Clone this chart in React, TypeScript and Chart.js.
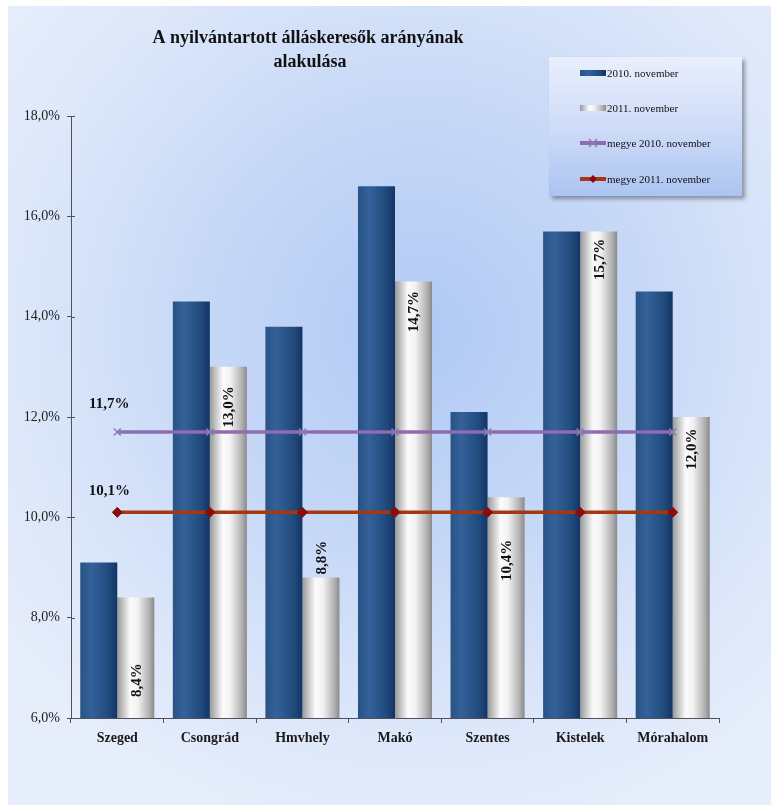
import React, { useEffect, useRef } from 'react';
import { Chart, registerables } from 'chart.js';

Chart.register(...registerables);

const categories = ['Szeged', 'Csongrád', 'Hmvhely', 'Makó', 'Szentes', 'Kistelek', 'Mórahalom'];
const nov2010 = [9.1, 14.3, 13.8, 16.6, 12.1, 15.7, 14.5];
const nov2011 = [8.4, 13.0, 8.8, 14.7, 10.4, 15.7, 12.0];
const megye2010 = [11.7, 11.7, 11.7, 11.7, 11.7, 11.7, 11.7];
const megye2011 = [10.1, 10.1, 10.1, 10.1, 10.1, 10.1, 10.1];
const seriesLabels = ['2010. november', '2011. november', 'megye 2010. november', 'megye 2011. november'];
const titleLines = ['A nyilvántartott álláskeresők arányának', 'alakulása'];
const yMin = 6;
const yMax = 18;
const yStep = 2;

// label placement (style, not data)
const barLabelShift: Array<{ from: 'top' | 'base'; dy: number }> = [
  { from: 'base', dy: -38 },
  { from: 'top', dy: 40 },
  { from: 'top', dy: -20 },
  { from: 'top', dy: 30 },
  { from: 'top', dy: 63 },
  { from: 'top', dy: 28 },
  { from: 'top', dy: 32 },
];
const lineLabelShift = [-28, -21];

const FONT = "'Liberation Serif', 'Times New Roman', serif";
const AXIS = '#50505a';
const PURPLE = '#8d6db2';
const PURPLE_MARK = '#8a7fb0';
const RED = '#a5380f';
const RED_MARK = '#8a0c0c';

const fmt = (v: number) => v.toFixed(1).replace('.', ',') + '%';

function barGrad(ctx: CanvasRenderingContext2D, x0: number, x1: number, kind: number) {
  const g = ctx.createLinearGradient(x0, 0, x1, 0);
  if (kind === 0) {
    g.addColorStop(0, '#2a5384');
    g.addColorStop(0.3, '#34619a');
    g.addColorStop(0.75, '#224b7d');
    g.addColorStop(1, '#123565');
  } else {
    g.addColorStop(0, '#999999');
    g.addColorStop(0.35, '#fbfbfb');
    g.addColorStop(0.55, '#f2f2f2');
    g.addColorStop(0.85, '#b4b4b4');
    g.addColorStop(1, '#8a8a8a');
  }
  return g;
}

const decor = {
  id: 'decor',
  beforeDraw(chart: any) {
    const ctx = chart.ctx as CanvasRenderingContext2D;
    const W = chart.width, H = chart.height;
    ctx.save();
    ctx.fillStyle = '#ffffff';
    ctx.fillRect(0, 0, W, H);
    const fx = 8, fy = 6, fw = W - 10, fh = H - 8;
    ctx.fillStyle = '#e4ecfa';
    ctx.fillRect(fx, fy, fw, fh);
    const rg = ctx.createRadialGradient(420, 330, 0, 420, 330, 520);
    rg.addColorStop(0, 'rgba(176,201,244,1)');
    rg.addColorStop(0.45, 'rgba(200,217,247,1)');
    rg.addColorStop(0.8, 'rgba(222,232,250,1)');
    rg.addColorStop(1, 'rgba(230,237,251,1)');
    ctx.fillStyle = rg;
    ctx.fillRect(fx, fy, fw, fh);
    ctx.restore();
  },
  beforeDatasetsDraw(chart: any) {
    const ctx = chart.ctx as CanvasRenderingContext2D;
    [0, 1].forEach((di) => {
      const meta = chart.getDatasetMeta(di);
      meta.data.forEach((el: any) => {
        const { x, width } = el.getProps(['x', 'width'], true);
        el.options = { ...el.options, backgroundColor: barGrad(ctx, x - width / 2, x + width / 2, di) };
      });
    });
  },
  afterDatasetsDraw(chart: any) {
    const ctx = chart.ctx as CanvasRenderingContext2D;
    ctx.save();
    ctx.fillStyle = '#111111';
    ctx.font = `bold 15px ${FONT}`;
    ctx.textAlign = 'center';
    ctx.textBaseline = 'middle';
    const bottom = chart.scales.y.getPixelForValue(yMin);
    // rotated labels on 2011 bars
    const meta = chart.getDatasetMeta(1);
    meta.data.forEach((el: any, i: number) => {
      const { x, y } = el.getProps(['x', 'y'], true);
      const s = barLabelShift[i];
      const cy = (s.from === 'top' ? y : bottom) + s.dy;
      ctx.save();
      ctx.translate(x, cy);
      ctx.rotate(-Math.PI / 2);
      ctx.fillText(fmt(chart.data.datasets[1].data[i]), 0, 1);
      ctx.restore();
    });
    // labels above first point of each line
    [2, 3].forEach((di, k) => {
      const el = chart.getDatasetMeta(di).data[0];
      const { x, y } = el.getProps(['x', 'y'], true);
      ctx.fillText(fmt(chart.data.datasets[di].data[0]), x - 8, y + lineLabelShift[k]);
    });
    // inner parts of y tick marks
    const ys = chart.scales.y;
    const left = chart.chartArea.left;
    ctx.strokeStyle = AXIS;
    ctx.lineWidth = 1;
    ys.ticks.forEach((t: any) => {
      const py = Math.round(ys.getPixelForValue(t.value)) + 0.5;
      ctx.beginPath();
      ctx.moveTo(left, py);
      ctx.lineTo(left + 4, py);
      ctx.stroke();
    });
    ctx.restore();
  },
  afterDraw(chart: any) {
    const ctx = chart.ctx as CanvasRenderingContext2D;
    ctx.save();
    // title
    ctx.fillStyle = '#111111';
    ctx.font = `bold 18px ${FONT}`;
    ctx.textAlign = 'center';
    ctx.textBaseline = 'middle';
    ctx.fillText(titleLines[0], 308, 38);
    ctx.fillText(titleLines[1], 310, 62);

    // legend box
    const bx = 549, by = 57, bw = 193, bh = 139;
    ctx.save();
    ctx.shadowColor = 'rgba(0,0,0,0.35)';
    ctx.shadowOffsetX = 3;
    ctx.shadowOffsetY = 3;
    ctx.shadowBlur = 4;
    const lg = ctx.createLinearGradient(0, by, 0, by + bh);
    lg.addColorStop(0, '#e9effc');
    lg.addColorStop(0.5, '#cfdcf8');
    lg.addColorStop(1, '#abc4f1');
    ctx.fillStyle = lg;
    ctx.fillRect(bx, by, bw, bh);
    ctx.restore();

    const rows = [73, 108, 143, 179];
    const sx0 = 580, sx1 = 606;
    ctx.font = `11px ${FONT}`;
    ctx.textAlign = 'left';
    ctx.fillStyle = '#111111';
    chart.data.datasets.forEach((ds: any, i: number) => {
      const ry = rows[i];
      if (i < 2) {
        ctx.fillStyle = barGrad(ctx, sx0, sx1, i);
        ctx.fillRect(sx0, ry - 3, sx1 - sx0, 6);
      } else {
        ctx.strokeStyle = ds.borderColor;
        ctx.lineWidth = 4;
        ctx.beginPath();
        ctx.moveTo(sx0, ry);
        ctx.lineTo(sx1, ry);
        ctx.stroke();
        const mx = (sx0 + sx1) / 2;
        if (i === 2) {
          ctx.strokeStyle = PURPLE_MARK;
          ctx.lineWidth = 1.5;
          ctx.beginPath();
          ctx.moveTo(mx - 4, ry - 4); ctx.lineTo(mx + 4, ry + 4);
          ctx.moveTo(mx + 4, ry - 4); ctx.lineTo(mx - 4, ry + 4);
          ctx.stroke();
        } else {
          ctx.fillStyle = RED_MARK;
          ctx.beginPath();
          ctx.moveTo(mx, ry - 4); ctx.lineTo(mx + 4, ry); ctx.lineTo(mx, ry + 4); ctx.lineTo(mx - 4, ry);
          ctx.closePath();
          ctx.fill();
        }
      }
      ctx.fillStyle = '#111111';
      ctx.fillText(ds.label, sx1 + 1, ry + 1);
    });
    ctx.restore();
  },
};

export default function App() {
  const ref = useRef<HTMLCanvasElement | null>(null);
  useEffect(() => {
    if (!ref.current) return;
    const chart = new Chart(ref.current, {
      type: 'bar',
      data: {
        labels: categories,
        datasets: [
          { type: 'bar', label: seriesLabels[0], data: nov2010, backgroundColor: '#2a5384', order: 1, borderWidth: 0 } as any,
          { type: 'bar', label: seriesLabels[1], data: nov2011, backgroundColor: '#dddddd', order: 2, borderWidth: 0 } as any,
          {
            type: 'line', label: seriesLabels[2], data: megye2010, borderColor: PURPLE, borderWidth: 3.5,
            pointStyle: 'crossRot', pointRadius: 5, pointBorderColor: PURPLE_MARK, pointBorderWidth: 1.5,
            pointBackgroundColor: PURPLE_MARK, order: 0, tension: 0,
          } as any,
          {
            type: 'line', label: seriesLabels[3], data: megye2011, borderColor: RED, borderWidth: 3.5,
            pointStyle: 'rectRot', pointRadius: 5, pointBorderColor: RED_MARK, pointBackgroundColor: RED_MARK,
            pointBorderWidth: 1, order: 0, tension: 0,
          } as any,
        ],
      },
      options: {
        responsive: false,
        animation: false,
        datasets: { bar: { categoryPercentage: 0.8, barPercentage: 1 } } as any,
        layout: { padding: { left: 0, top: 116, right: 54, bottom: 59 } },
        plugins: { legend: { display: false }, title: { display: false }, tooltip: { enabled: false } },
        scales: {
          x: {
            grid: { display: true, drawOnChartArea: false, tickLength: 5, color: AXIS, offset: true },
            border: { display: true, color: AXIS, width: 1 },
            ticks: { font: { family: FONT, size: 14, weight: 'bold' }, color: '#1a1a1a', padding: 7, maxRotation: 0 },
            afterFit: (s: any) => { s.height = 30; },
          },
          y: {
            min: yMin,
            max: yMax,
            ticks: { stepSize: yStep, callback: (v: any) => fmt(Number(v)), font: { family: FONT, size: 14 }, color: '#222222', padding: 7 },
            grid: { drawOnChartArea: false, tickLength: 4, color: AXIS },
            border: { display: true, color: AXIS, width: 1 },
            afterFit: (s: any) => { s.width = 71; },
          },
        },
      } as any,
      plugins: [decor],
    });
    return () => chart.destroy();
  }, []);
  return (
    <div style={{ position: 'absolute', left: 0, top: 0, width: 773, height: 807 }}>
      <canvas ref={ref} width={773} height={807} />
    </div>
  );
}
